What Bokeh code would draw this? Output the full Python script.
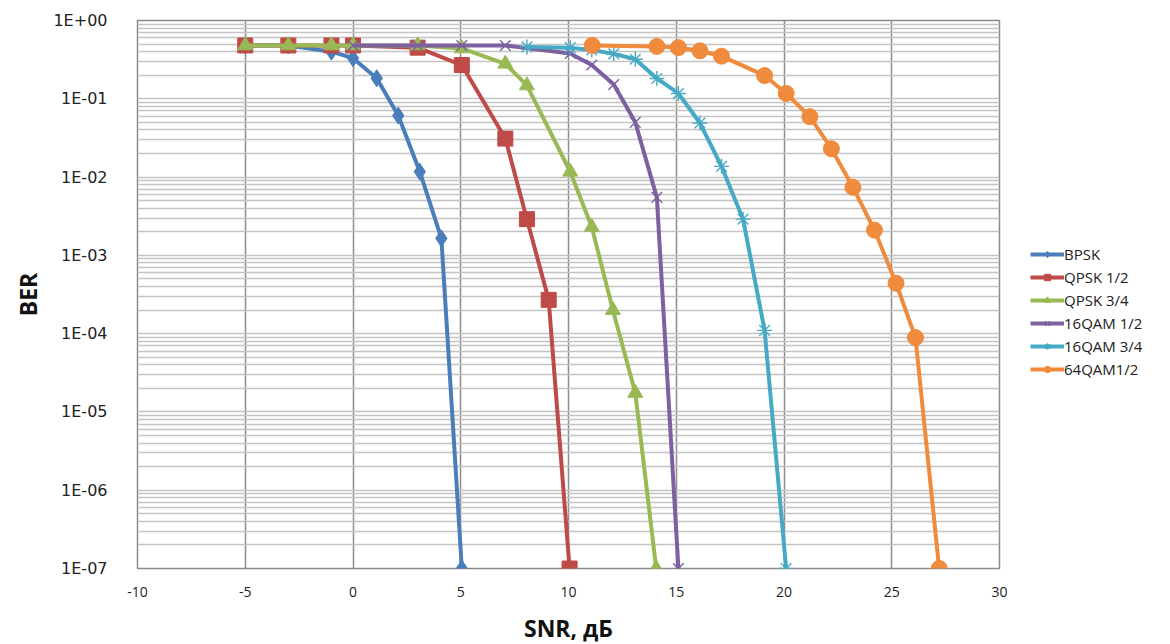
from bokeh.plotting import figure
from bokeh.models import FixedTicker, CustomJSTickFormatter, Legend, LegendItem, Range1d
from bokeh.embed import file_html
from bokeh.resources import INLINE

# ---------------- data ----------------
series_names = ["BPSK", "QPSK 1/2", "QPSK 3/4", "16QAM 1/2", "16QAM 3/4", "64QAM1/2"]

bpsk_snr = [-5, -3, -1, 0, 1.1, 2.1, 3.1, 4.1, 5.05]
bpsk_ber = [0.48, 0.48, 0.40, 0.33, 0.183, 0.061, 0.0117, 0.00165, 1e-7]

qpsk12_snr = [-5, -3, -1, 0, 3, 5.05, 7.07, 8.07, 9.08, 10.05]
qpsk12_ber = [0.48, 0.48, 0.48, 0.48, 0.45, 0.27, 0.031, 0.0029, 0.00027, 1e-7]

qpsk34_snr = [-5, -3, -1, 0, 3, 5.05, 7.07, 8.07, 10.08, 11.08, 12.06, 13.1, 14.07]
qpsk34_ber = [0.48, 0.48, 0.48, 0.48, 0.48, 0.44, 0.28, 0.148, 0.0117, 0.0023, 0.0002, 1.75e-5, 1e-7]

qam16_12_snr = [0, 3, 5.05, 7.07, 10.08, 11.08, 12.1, 13.1, 14.1, 15.1]
qam16_12_ber = [0.48, 0.48, 0.48, 0.48, 0.38, 0.27, 0.152, 0.05, 0.0055, 1e-7]

qam16_34_snr = [8.07, 10.08, 11.08, 12.1, 13.1, 14.1, 15.1, 16.1, 17.1, 18.1, 19.1, 20.1]
qam16_34_ber = [0.46, 0.45, 0.42, 0.375, 0.32, 0.182, 0.117, 0.049, 0.0137, 0.0029, 0.00011, 1e-7]

qam64_snr = [11.1, 14.1, 15.1, 16.1, 17.1, 19.1, 20.1, 21.2, 22.2, 23.2, 24.2, 25.2, 26.1, 27.2]
qam64_ber = [0.48, 0.466, 0.45, 0.41, 0.35, 0.198, 0.117, 0.059, 0.023, 0.0074, 0.0021, 0.00044, 8.9e-5, 1e-7]

x_ticks = [-10, -5, 0, 5, 10, 15, 20, 25, 30]
x_tick_labels = ["-10", "-5", "0", "5", "10", "15", "20", "25", "30"]
y_ticks = [1, 1e-1, 1e-2, 1e-3, 1e-4, 1e-5, 1e-6, 1e-7]
y_tick_labels = ["1E+00", "1E-01", "1E-02", "1E-03", "1E-04", "1E-05", "1E-06", "1E-07"]

x_title = "SNR, дБ"
y_title = "BER"

# ---------------- styling ----------------
colors = ["#4A7EBB", "#BE4B48", "#98B954", "#7D60A0", "#46AAC5", "#F08A3C"]
markers = ["diamond", "square", "triangle", "x", "asterisk", "circle"]
msizes = [17, 15, 15, 15, 15, 16]

p = figure(frame_width=862, frame_height=548, y_axis_type="log",
           x_range=Range1d(-10, 30), y_range=Range1d(1e-7, 1),
           output_backend="svg", toolbar_location=None,
           min_border_left=137, min_border_right=10,
           min_border_top=20, min_border_bottom=56)
p.background_fill_color = "white"
p.border_fill_color = "white"
p.outline_line_color = "#8a8a8a"
p.outline_line_width = 1.5

minor = [k * 10.0 ** e for e in range(-7, 0) for k in range(2, 10)]
yticker = FixedTicker(ticks=y_ticks, minor_ticks=minor)
p.yaxis.ticker = yticker
p.ygrid.ticker = yticker
p.yaxis.formatter = CustomJSTickFormatter(args=dict(tvals=y_ticks, tlabels=y_tick_labels), code="""
let best = 0, bd = Infinity;
for (let i = 0; i < tvals.length; i++) {
  const d = Math.abs(Math.log10(tick) - Math.log10(tvals[i]));
  if (d < bd) { bd = d; best = i; }
}
return tlabels[best];
""")
xticker = FixedTicker(ticks=x_ticks)
p.xaxis.ticker = xticker
p.xgrid.ticker = xticker
p.xaxis.major_label_overrides = {t: l for t, l in zip(x_ticks, x_tick_labels)}

p.xgrid.grid_line_color = "#8c8c8c"
p.xgrid.grid_line_width = 1.5
p.ygrid.grid_line_color = "#c4c4c4"
p.ygrid.grid_line_width = 1.5
p.ygrid.minor_grid_line_color = "#c4c4c4"
p.ygrid.minor_grid_line_width = 1.5

for ax in (p.xaxis[0], p.yaxis[0]):
    ax.axis_line_color = None
    ax.major_tick_line_color = None
    ax.minor_tick_line_color = None
    ax.axis_label_text_font = "Open Sans"
    ax.axis_label_text_font_style = "bold"
    ax.axis_label_text_font_size = "23px"
    ax.axis_label_text_color = "#111111"

p.xaxis.axis_label = x_title
p.yaxis.axis_label = y_title
p.xaxis.major_label_text_font = "Open Sans"
p.xaxis.major_label_text_font_size = "14px"
p.xaxis.major_label_text_color = "#222222"
p.xaxis.major_label_standoff = 12
p.xaxis.axis_label_standoff = 12
p.yaxis.major_label_text_font = "DejaVu Sans"
p.yaxis.major_label_text_font_size = "16px"
p.yaxis.major_label_text_color = "#222222"
p.yaxis.major_label_standoff = 24
p.yaxis.axis_label_standoff = 6

data = [(bpsk_snr, bpsk_ber), (qpsk12_snr, qpsk12_ber), (qpsk34_snr, qpsk34_ber),
        (qam16_12_snr, qam16_12_ber), (qam16_34_snr, qam16_34_ber), (qam64_snr, qam64_ber)]

items = []
for (xs, ys), name, c, m, s in zip(data, series_names, colors, markers, msizes):
    ln = p.line(xs, ys, line_color=c, line_width=4)
    if m in ("x", "asterisk"):
        sc = p.scatter(xs, ys, marker=m, size=s, line_color=c, line_width=1.4, fill_color=c)
    else:
        sc = p.scatter(xs, ys, marker=m, size=s, line_color=c, fill_color=c)
    items.append(LegendItem(label=name, renderers=[ln, sc]))

legend = Legend(items=items, location=(31, 189))
legend.border_line_color = None
legend.background_fill_alpha = 0
legend.label_text_font = "Open Sans"
legend.label_text_font_size = "15px"
legend.label_text_color = "#222222"
legend.glyph_width = 34
legend.glyph_height = 16
legend.label_height = 16
legend.spacing = 3
legend.padding = 4
legend.margin = 0
legend.label_standoff = 0
p.add_layout(legend, "right")

open("out.html", "w").write(file_html(p, INLINE))
